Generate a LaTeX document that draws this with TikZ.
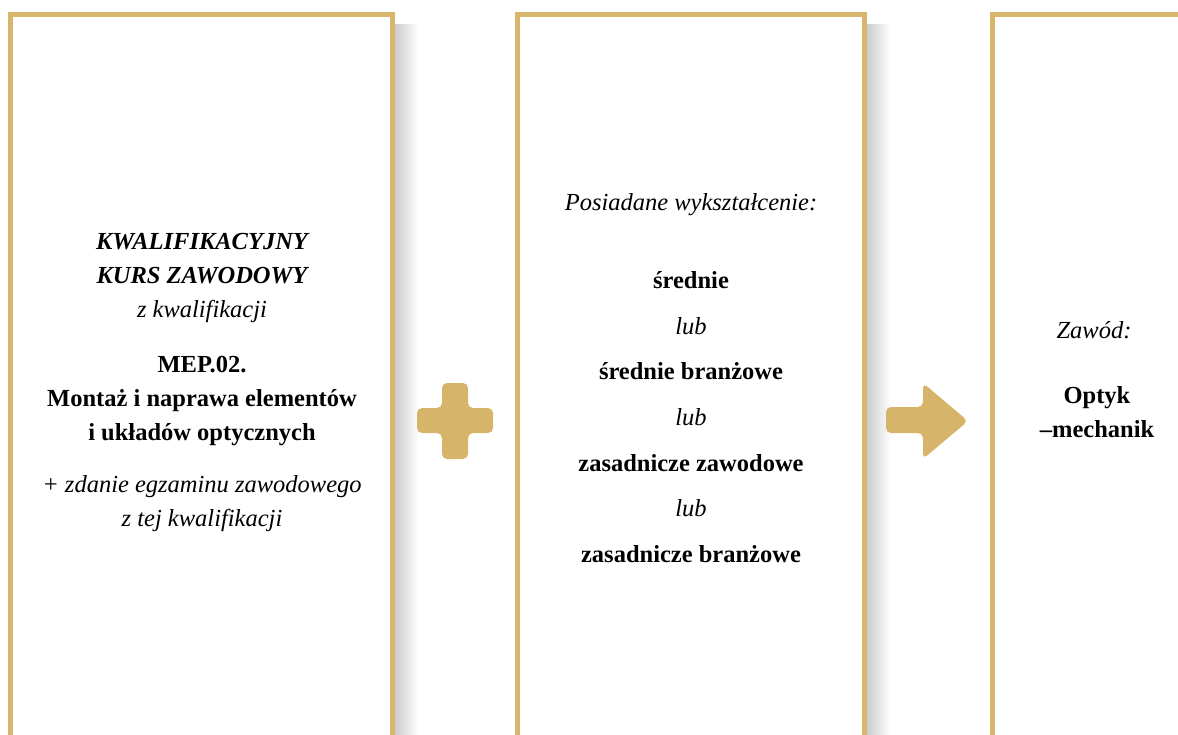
\documentclass[tikz,border=0pt]{standalone}
\usepackage{fontspec}
\setmainfont{Liberation Serif}
\usetikzlibrary{positioning}
\definecolor{gold}{HTML}{D8B66B}
\definecolor{signgold}{HTML}{D6B46A}

\begin{document}
\begin{tikzpicture} [
            x=1pt, y=-1pt,
            frame/.style  = { rectangle, draw=gold, line width=5pt, fill=white,
                              anchor=north west, minimum height=780pt },
            shadow/.style = { left color=black!20, right color=white, draw=none },
            txt/.style    = { align=center, inner sep=0pt,
                              font=\fontsize{24.5}{34}\selectfont },
            list/.style   = { txt, font=\fontsize{24.5}{45.7}\selectfont },
            sign/.style   = { fill=signgold, rounded corners=5pt },
          ]
          \useasboundingbox (0,0) rectangle (1178,734);
          \clip (0,0) rectangle (1178,734);

          % shadows on the right of the frames
          \fill [shadow] (395,24) rectangle (419,734);
          \fill [shadow] (867,24) rectangle (891,734);

          % frames
          \node (kurs)  [frame, minimum width=382pt] at (8,12) {};
          \node (wyksz) [frame, minimum width=347pt] at (515,12) {};
          \node (zawod) [frame, minimum width=300pt] at (990,12) {};

          % first frame
          \node (kursname) [txt] at (202,278)
            {\bfseries\itshape KWALIFIKACYJNY\\ \bfseries\itshape KURS ZAWODOWY\\ \itshape z kwalifikacji};
          \node (kwal) [txt] at (202,401)
            {\bfseries MEP.02.\\ \bfseries Montaż i naprawa elementów\\ \bfseries i układów optycznych};
          \node (egzamin) [txt] at (202,504)
            {\itshape + zdanie egzaminu zawodowego\\ \itshape z tej kwalifikacji};

          % second frame
          \node (posiad) [txt] at (691,205) {\itshape Posiadane wykształcenie:};
          \node (poziomy) [list] at (691,417)
            {\bfseries średnie\\ \itshape lub\\ \bfseries średnie branżowe\\ \itshape lub\\
             \bfseries zasadnicze zawodowe\\ \itshape lub\\ \bfseries zasadnicze branżowe};

          % third frame
          \node (zawodlab) [txt] at (1094,330) {\itshape Zawód:};
          \node (optyk) [txt] at (1097,412) {\bfseries Optyk\\ \bfseries –mechanik};

          % plus sign
          \fill [sign] (442,383) -- (468,383) -- (468,408) -- (493,408) -- (493,433)
                    -- (468,433) -- (468,459) -- (442,459) -- (442,433) -- (417,433)
                    -- (417,408) -- (442,408) -- cycle;
          % arrow
          \fill [sign] (886,407) -- (923,407) -- (923,383) -- (968,421) -- (923,459)
                    -- (923,433) -- (886,433) -- cycle;
        \end{tikzpicture}
\end{document}
